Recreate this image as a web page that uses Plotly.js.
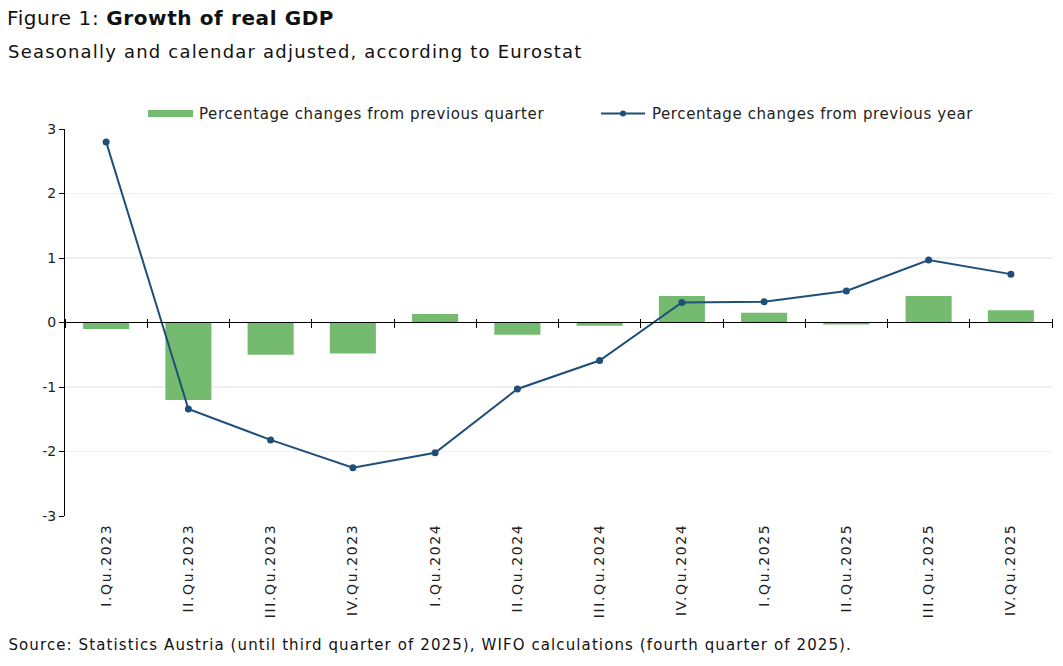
<!DOCTYPE html>
<html>
<head>
<meta charset="utf-8">
<script src="https://cdn.plot.ly/plotly-3.0.1.min.js"></script>
<style>
html,body{margin:0;padding:0;background:#fff;}
#chart{width:1063px;height:666px;}
#chart text.gtitle{letter-spacing:0.6px;}
#chart g.annotation[data-index="0"] text{letter-spacing:1.2px;}
#chart g.annotation[data-index="1"] text{letter-spacing:0.6px;}
#chart g.annotation[data-index="2"] text{letter-spacing:0.6px;}
#chart g.annotation[data-index="3"] text{letter-spacing:1.1px;}
#chart g.xtick text{letter-spacing:1.6px;}
</style>
</head>
<body>
<div id="chart"></div>
<script>
var categories = ["I.Qu.2023","II.Qu.2023","III.Qu.2023","IV.Qu.2023","I.Qu.2024","II.Qu.2024","III.Qu.2024","IV.Qu.2024","I.Qu.2025","II.Qu.2025","III.Qu.2025","IV.Qu.2025"];
var quarterChange = [-0.10, -1.20, -0.50, -0.48, 0.13, -0.19, -0.05, 0.41, 0.15, -0.03, 0.41, 0.19];
var yearChange = [2.80, -1.34, -1.82, -2.25, -2.02, -1.03, -0.59, 0.31, 0.32, 0.49, 0.97, 0.75];
var yTickVals = [-3, -2, -1, 0, 1, 2, 3];
var yTickText = ["-3", "-2", "-1", "0", "1", "2", "3"];
var seriesNames = ["Percentage changes from previous quarter", "Percentage changes from previous year"];
var subtitleText = "Seasonally and calendar adjusted, according to Eurostat";
var sourceText = "Source: Statistics Austria (until third quarter of 2025), WIFO calculations (fourth quarter of 2025).";

var FONT = "DejaVu Sans, sans-serif";
var GREEN = "#74BB6F";
var BLUE = "#1F4E79";

var W = 1063, H = 666, ML = 65, MR = 11, MT = 129, MB = 150;
var PW = W - ML - MR, PH = H - MT - MB;
function px(x) { return (x - ML) / PW; }
function py(y) { return (H - MB - y) / PH; }
// annotation text is centred in its box, so extra letter spacing grows both ways: shift by half
function spread(txt, ls) { return txt.length * ls / 2; }

var traces = [
  {
    type: "bar", x: categories, y: quarterChange, name: seriesNames[0],
    marker: {color: GREEN}, showlegend: false, hoverinfo: "x+y"
  },
  {
    type: "scatter", mode: "lines+markers", x: categories, y: yearChange, name: seriesNames[1],
    xaxis: "x2",
    line: {color: BLUE, width: 2}, marker: {color: BLUE, size: 7}, showlegend: false, cliponaxis: false
  }
];

var layout = {
  width: W, height: H,
  margin: {l: ML, r: MR, t: MT, b: MB},
  paper_bgcolor: "#fff", plot_bgcolor: "#fff",
  font: {family: FONT, color: "#1a1a1a", size: 14},
  bargap: 0.44,
  showlegend: false,
  title: {
    text: "Figure 1: <b>Growth of real GDP</b>",
    xref: "container", x: 7 / W, xanchor: "left",
    yref: "container", y: 1 - 18 / H, yanchor: "middle",
    font: {family: FONT, size: 20, color: "#111"}
  },
  xaxis: {
    type: "category", range: [-0.5, 11.5], tickangle: -90,
    showline: false, showgrid: false, zeroline: false, ticks: "", ticklabelstandoff: 4,
    tickfont: {family: FONT, size: 14, color: "#222"}, automargin: false, fixedrange: true
  },
  xaxis2: {
    type: "category", overlaying: "x", anchor: "free", position: py(318.3),
    range: [-0.5, 11.5], tickson: "boundaries", ticks: "outside", ticklen: 9, tickwidth: 1,
    tickcolor: "#000", showticklabels: false, showline: false, showgrid: false, zeroline: false,
    fixedrange: true
  },
  yaxis: {
    range: [-3, 3], tickmode: "array", tickvals: yTickVals, ticktext: yTickText,
    showline: true, linecolor: "#000", linewidth: 1,
    ticks: "outside", ticklen: 5, tickcolor: "#000",
    showgrid: true, gridcolor: "#EFEFEF", gridwidth: 1.5,
    zeroline: true, zerolinecolor: "#000", zerolinewidth: 1.3, zerolinelayer: "above traces",
    tickfont: {family: FONT, size: 14, color: "#222"},
    automargin: false, fixedrange: true
  },
  shapes: [
    {type: "rect", xref: "paper", yref: "paper", x0: px(148), x1: px(193), y0: py(117), y1: py(110),
     fillcolor: GREEN, line: {width: 0}},
    {type: "line", xref: "paper", yref: "paper", x0: px(601), x1: px(645), y0: py(113.5), y1: py(113.5),
     line: {color: BLUE, width: 2}},
    {type: "circle", xref: "paper", yref: "paper", x0: px(620), x1: px(626), y0: py(116.5), y1: py(110.5),
     fillcolor: BLUE, line: {color: BLUE, width: 0}}
  ],
  annotations: [
    {text: subtitleText, xref: "paper", yref: "paper",
     x: px(6), y: py(52), xanchor: "left", yanchor: "middle", showarrow: false,
     xshift: spread(subtitleText, 1.2),
     font: {family: FONT, size: 18, color: "#111"}},
    {text: seriesNames[0], xref: "paper", yref: "paper", x: px(197), y: py(113.5),
     xanchor: "left", yanchor: "middle", showarrow: false, xshift: spread(seriesNames[0], 0.6),
     font: {family: FONT, size: 15, color: "#222"}},
    {text: seriesNames[1], xref: "paper", yref: "paper", x: px(650), y: py(113.5),
     xanchor: "left", yanchor: "middle", showarrow: false, xshift: spread(seriesNames[1], 0.6),
     font: {family: FONT, size: 15, color: "#222"}},
    {text: sourceText,
     xref: "paper", yref: "paper", x: px(6), y: py(645), xanchor: "left", yanchor: "middle", showarrow: false,
     xshift: spread(sourceText, 1.1),
     font: {family: FONT, size: 15, color: "#111"}}
  ]
};

Plotly.newPlot("chart", traces, layout, {displayModeBar: false, staticPlot: true});
</script>
</body>
</html>
